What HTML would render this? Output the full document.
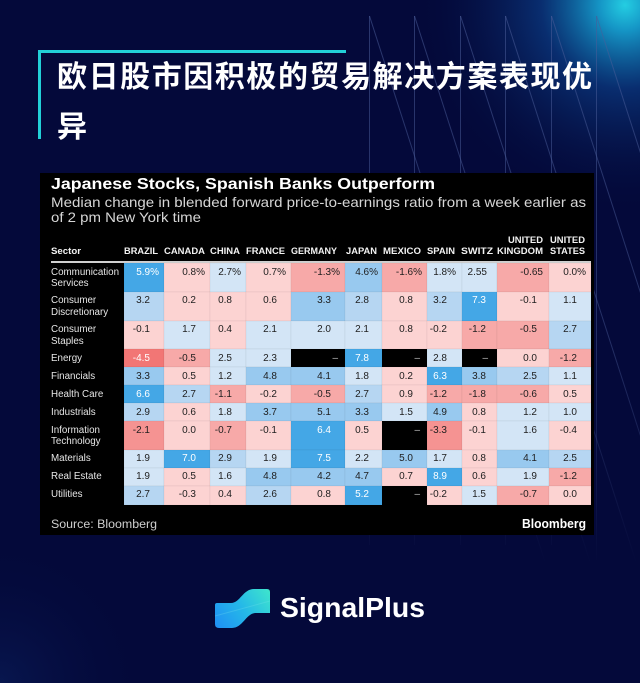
<!DOCTYPE html>
<html><head><meta charset="utf-8"><style>
html,body{margin:0;padding:0;background:#04093a;width:640px;height:683px;overflow:hidden}
svg{display:block}
.t{font-family:"Liberation Sans","Noto Sans CJK SC",sans-serif}
.sb{fill:#44a7e6}.mb{fill:#98c9ef}.lb2{fill:#b6d6f2}.lb{fill:#d3e5f6}
.lp{fill:#fcd3d2}.mr{fill:#f7a9a8}.dr{fill:#f59392}.xr{fill:#f27675}
.cells rect{stroke:#000;stroke-opacity:.07;stroke-width:.6}
.v{font-family:"Liberation Sans",sans-serif;font-size:10px;fill:#1e1e1e;text-anchor:end}
.w{fill:#fff}
.d{fill:#bdbdbd}
.lab{font-family:"Liberation Sans",sans-serif;font-size:9.8px;fill:#e6e6e6}
.hd{font-family:"Liberation Sans",sans-serif;font-size:9.5px;font-weight:700;fill:#f2f2f2}
</style></head><body>
<svg width="640" height="683" viewBox="0 0 640 683" xmlns="http://www.w3.org/2000/svg">
<defs>
<radialGradient id="g1" cx="625" cy="5" r="210" gradientUnits="userSpaceOnUse">
<stop offset="0" stop-color="#24cde2"/>
<stop offset="0.12" stop-color="#1596c6"/>
<stop offset="0.4" stop-color="#0b3d86" stop-opacity="0.7"/>
<stop offset="1" stop-color="#04093a" stop-opacity="0"/>
</radialGradient>
<radialGradient id="g2" cx="0" cy="683" r="150" gradientUnits="userSpaceOnUse">
<stop offset="0" stop-color="#0d2a6e" stop-opacity="0.4"/>
<stop offset="1" stop-color="#04093a" stop-opacity="0"/>
</radialGradient>
<linearGradient id="ls" x1="0" y1="16" x2="0" y2="565" gradientUnits="userSpaceOnUse">
<stop offset="0" stop-color="#4a5c98" stop-opacity="0.55"/>
<stop offset="0.6" stop-color="#4a5c98" stop-opacity="0.45"/>
<stop offset="1" stop-color="#4a5c98" stop-opacity="0"/>
</linearGradient>
<linearGradient id="lg" x1="215" y1="628" x2="270" y2="589" gradientUnits="userSpaceOnUse">
<stop offset="0" stop-color="#1f8ff5"/>
<stop offset="0.5" stop-color="#25b8e8"/>
<stop offset="1" stop-color="#3fe6cc"/>
</linearGradient>
</defs>
<rect width="640" height="683" fill="#04093a"/>
<rect width="640" height="683" fill="url(#g1)"/>
<rect width="640" height="683" fill="url(#g2)"/>
<g stroke="url(#ls)" stroke-width="1" fill="none">
<line x1="369.5" y1="16" x2="369.5" y2="545"/>
<line x1="414.5" y1="16" x2="414.5" y2="545"/>
<line x1="460.5" y1="16" x2="460.5" y2="545"/>
<line x1="505.5" y1="16" x2="505.5" y2="545"/>
<line x1="551.5" y1="16" x2="551.5" y2="545"/>
<line x1="596.5" y1="16" x2="596.5" y2="560"/>
<line x1="369.5" y1="16" x2="546" y2="565"/>
<line x1="414.5" y1="16" x2="591" y2="565"/>
<line x1="460.5" y1="16" x2="637" y2="565"/>
<line x1="505.5" y1="16" x2="682" y2="565"/>
<line x1="551.5" y1="16" x2="728" y2="565"/>
<line x1="596.5" y1="16" x2="773" y2="565"/>
</g>
<polyline points="39.5,139 39.5,51.5 346,51.5" fill="none" stroke="#22d0d8" stroke-width="3"/>
<text class="t" x="57" y="87" font-size="30" font-weight="700" fill="#fff" textLength="535" lengthAdjust="spacing">欧日股市因积极的贸易解决方案表现优</text>
<text class="t" x="57" y="137" font-size="30" font-weight="700" fill="#fff">异</text>

<rect x="40" y="173" width="554" height="362" fill="#000"/>
<text class="t" x="51" y="189" font-size="15.5" font-weight="700" fill="#fff" textLength="384" lengthAdjust="spacingAndGlyphs">Japanese Stocks, Spanish Banks Outperform</text>
<text class="t" x="51" y="207" font-size="14" fill="#d6d6d6" textLength="535" lengthAdjust="spacingAndGlyphs">Median change in blended forward price-to-earnings ratio from a week earlier as</text>
<text class="t" x="51" y="222" font-size="14" fill="#d6d6d6" textLength="150" lengthAdjust="spacingAndGlyphs">of 2 pm New York time</text>

<text class="hd" x="51" y="254" textLength="30" lengthAdjust="spacingAndGlyphs">Sector</text>
<text class="hd" x="124" y="254" textLength="34" lengthAdjust="spacingAndGlyphs">BRAZIL</text>
<text class="hd" x="164" y="254" textLength="41" lengthAdjust="spacingAndGlyphs">CANADA</text>
<text class="hd" x="210" y="254" textLength="30" lengthAdjust="spacingAndGlyphs">CHINA</text>
<text class="hd" x="246" y="254" textLength="39" lengthAdjust="spacingAndGlyphs">FRANCE</text>
<text class="hd" x="291" y="254" textLength="46" lengthAdjust="spacingAndGlyphs">GERMANY</text>
<text class="hd" x="346" y="254" textLength="31" lengthAdjust="spacingAndGlyphs">JAPAN</text>
<text class="hd" x="383" y="254" textLength="38" lengthAdjust="spacingAndGlyphs">MEXICO</text>
<text class="hd" x="427" y="254" textLength="28" lengthAdjust="spacingAndGlyphs">SPAIN</text>
<text class="hd" x="461" y="254" textLength="32" lengthAdjust="spacingAndGlyphs">SWITZ</text>
<text class="hd" x="508" y="243" textLength="35" lengthAdjust="spacingAndGlyphs">UNITED</text>
<text class="hd" x="497" y="254" textLength="46" lengthAdjust="spacingAndGlyphs">KINGDOM</text>
<text class="hd" x="550" y="243" textLength="35" lengthAdjust="spacingAndGlyphs">UNITED</text>
<text class="hd" x="550" y="254" textLength="35" lengthAdjust="spacingAndGlyphs">STATES</text>
<rect x="51" y="261" width="540" height="2" fill="#d0d0d0"/>

<g class="lab">
<text x="51" y="275">Communication</text><text x="51" y="286">Services</text>
<text x="51" y="303">Consumer</text><text x="51" y="315">Discretionary</text>
<text x="51" y="332">Consumer</text><text x="51" y="344">Staples</text>
<text x="51" y="361">Energy</text>
<text x="51" y="379">Financials</text>
<text x="51" y="397">Health Care</text>
<text x="51" y="415">Industrials</text>
<text x="51" y="433">Information</text><text x="51" y="444">Technology</text>
<text x="51" y="461">Materials</text>
<text x="51" y="479">Real Estate</text>
<text x="51" y="497">Utilities</text>
</g>

<g class="cells">
<rect x="124" y="263" width="40" height="29" class="sb"/>
<rect x="164" y="263" width="46" height="29" class="lp"/>
<rect x="210" y="263" width="36" height="29" class="lb"/>
<rect x="246" y="263" width="45" height="29" class="lp"/>
<rect x="291" y="263" width="54" height="29" class="mr"/>
<rect x="345" y="263" width="37" height="29" class="mb"/>
<rect x="382" y="263" width="45" height="29" class="mr"/>
<rect x="427" y="263" width="35" height="29" class="lb"/>
<rect x="462" y="263" width="35" height="29" class="lb"/>
<rect x="497" y="263" width="52" height="29" class="mr"/>
<rect x="549" y="263" width="42" height="29" class="lp"/>
<rect x="124" y="292" width="40" height="29" class="lb2"/>
<rect x="164" y="292" width="46" height="29" class="lp"/>
<rect x="210" y="292" width="36" height="29" class="lp"/>
<rect x="246" y="292" width="45" height="29" class="lp"/>
<rect x="291" y="292" width="54" height="29" class="mb"/>
<rect x="345" y="292" width="37" height="29" class="lb2"/>
<rect x="382" y="292" width="45" height="29" class="lp"/>
<rect x="427" y="292" width="35" height="29" class="lb2"/>
<rect x="462" y="292" width="35" height="29" class="sb"/>
<rect x="497" y="292" width="52" height="29" class="lp"/>
<rect x="549" y="292" width="42" height="29" class="lb"/>
<rect x="124" y="321" width="40" height="28" class="lp"/>
<rect x="164" y="321" width="46" height="28" class="lb"/>
<rect x="210" y="321" width="36" height="28" class="lp"/>
<rect x="246" y="321" width="45" height="28" class="lb"/>
<rect x="291" y="321" width="54" height="28" class="lb"/>
<rect x="345" y="321" width="37" height="28" class="lb"/>
<rect x="382" y="321" width="45" height="28" class="lp"/>
<rect x="427" y="321" width="35" height="28" class="lp"/>
<rect x="462" y="321" width="35" height="28" class="mr"/>
<rect x="497" y="321" width="52" height="28" class="mr"/>
<rect x="549" y="321" width="42" height="28" class="lb2"/>
<rect x="124" y="349" width="40" height="18" class="xr"/>
<rect x="164" y="349" width="46" height="18" class="mr"/>
<rect x="210" y="349" width="36" height="18" class="lb"/>
<rect x="246" y="349" width="45" height="18" class="lb"/>
<rect x="345" y="349" width="37" height="18" class="sb"/>
<rect x="427" y="349" width="35" height="18" class="lb"/>
<rect x="497" y="349" width="52" height="18" class="lp"/>
<rect x="549" y="349" width="42" height="18" class="mr"/>
<rect x="124" y="367" width="40" height="18" class="mb"/>
<rect x="164" y="367" width="46" height="18" class="lp"/>
<rect x="210" y="367" width="36" height="18" class="lb"/>
<rect x="246" y="367" width="45" height="18" class="mb"/>
<rect x="291" y="367" width="54" height="18" class="mb"/>
<rect x="345" y="367" width="37" height="18" class="lb"/>
<rect x="382" y="367" width="45" height="18" class="lp"/>
<rect x="427" y="367" width="35" height="18" class="sb"/>
<rect x="462" y="367" width="35" height="18" class="mb"/>
<rect x="497" y="367" width="52" height="18" class="lb2"/>
<rect x="549" y="367" width="42" height="18" class="lb"/>
<rect x="124" y="385" width="40" height="18" class="sb"/>
<rect x="164" y="385" width="46" height="18" class="lb2"/>
<rect x="210" y="385" width="36" height="18" class="mr"/>
<rect x="246" y="385" width="45" height="18" class="lp"/>
<rect x="291" y="385" width="54" height="18" class="mr"/>
<rect x="345" y="385" width="37" height="18" class="lb2"/>
<rect x="382" y="385" width="45" height="18" class="lp"/>
<rect x="427" y="385" width="35" height="18" class="mr"/>
<rect x="462" y="385" width="35" height="18" class="mr"/>
<rect x="497" y="385" width="52" height="18" class="mr"/>
<rect x="549" y="385" width="42" height="18" class="lp"/>
<rect x="124" y="403" width="40" height="18" class="lb2"/>
<rect x="164" y="403" width="46" height="18" class="lp"/>
<rect x="210" y="403" width="36" height="18" class="lb"/>
<rect x="246" y="403" width="45" height="18" class="mb"/>
<rect x="291" y="403" width="54" height="18" class="mb"/>
<rect x="345" y="403" width="37" height="18" class="mb"/>
<rect x="382" y="403" width="45" height="18" class="lb"/>
<rect x="427" y="403" width="35" height="18" class="mb"/>
<rect x="462" y="403" width="35" height="18" class="lp"/>
<rect x="497" y="403" width="52" height="18" class="lb"/>
<rect x="549" y="403" width="42" height="18" class="lb"/>
<rect x="124" y="421" width="40" height="29" class="dr"/>
<rect x="164" y="421" width="46" height="29" class="lp"/>
<rect x="210" y="421" width="36" height="29" class="mr"/>
<rect x="246" y="421" width="45" height="29" class="lp"/>
<rect x="291" y="421" width="54" height="29" class="sb"/>
<rect x="345" y="421" width="37" height="29" class="lp"/>
<rect x="427" y="421" width="35" height="29" class="dr"/>
<rect x="462" y="421" width="35" height="29" class="lp"/>
<rect x="497" y="421" width="52" height="29" class="lb"/>
<rect x="549" y="421" width="42" height="29" class="lp"/>
<rect x="124" y="450" width="40" height="18" class="lb"/>
<rect x="164" y="450" width="46" height="18" class="sb"/>
<rect x="210" y="450" width="36" height="18" class="lb2"/>
<rect x="246" y="450" width="45" height="18" class="lb"/>
<rect x="291" y="450" width="54" height="18" class="sb"/>
<rect x="345" y="450" width="37" height="18" class="lb"/>
<rect x="382" y="450" width="45" height="18" class="mb"/>
<rect x="427" y="450" width="35" height="18" class="lb"/>
<rect x="462" y="450" width="35" height="18" class="lp"/>
<rect x="497" y="450" width="52" height="18" class="mb"/>
<rect x="549" y="450" width="42" height="18" class="lb2"/>
<rect x="124" y="468" width="40" height="18" class="lb"/>
<rect x="164" y="468" width="46" height="18" class="lp"/>
<rect x="210" y="468" width="36" height="18" class="lb"/>
<rect x="246" y="468" width="45" height="18" class="mb"/>
<rect x="291" y="468" width="54" height="18" class="mb"/>
<rect x="345" y="468" width="37" height="18" class="mb"/>
<rect x="382" y="468" width="45" height="18" class="lp"/>
<rect x="427" y="468" width="35" height="18" class="sb"/>
<rect x="462" y="468" width="35" height="18" class="lp"/>
<rect x="497" y="468" width="52" height="18" class="lb"/>
<rect x="549" y="468" width="42" height="18" class="mr"/>
<rect x="124" y="486" width="40" height="19" class="lb2"/>
<rect x="164" y="486" width="46" height="19" class="lp"/>
<rect x="210" y="486" width="36" height="19" class="lp"/>
<rect x="246" y="486" width="45" height="19" class="lb2"/>
<rect x="291" y="486" width="54" height="19" class="lp"/>
<rect x="345" y="486" width="37" height="19" class="sb"/>
<rect x="427" y="486" width="35" height="19" class="lp"/>
<rect x="462" y="486" width="35" height="19" class="lb"/>
<rect x="497" y="486" width="52" height="19" class="mr"/>
<rect x="549" y="486" width="42" height="19" class="lp"/>
</g>

<g>
<text class="v w" x="159" y="275">5.9%</text>
<text class="v" x="205" y="275">0.8%</text>
<text class="v" x="241" y="275">2.7%</text>
<text class="v" x="286" y="275">0.7%</text>
<text class="v" x="340" y="275">-1.3%</text>
<text class="v" x="378" y="275">4.6%</text>
<text class="v" x="422" y="275">-1.6%</text>
<text class="v" x="456" y="275">1.8%</text>
<text class="v" x="487" y="275">2.55</text>
<text class="v" x="543" y="275">-0.65</text>
<text class="v" x="586" y="275">0.0%</text>
<text class="v" x="150" y="303">3.2</text>
<text class="v" x="196" y="303">0.2</text>
<text class="v" x="232" y="303">0.8</text>
<text class="v" x="277" y="303">0.6</text>
<text class="v" x="331" y="303">3.3</text>
<text class="v" x="369" y="303">2.8</text>
<text class="v" x="413" y="303">0.8</text>
<text class="v" x="447" y="303">3.2</text>
<text class="v w" x="486" y="303">7.3</text>
<text class="v" x="537" y="303">-0.1</text>
<text class="v" x="577" y="303">1.1</text>
<text class="v" x="150" y="332">-0.1</text>
<text class="v" x="196" y="332">1.7</text>
<text class="v" x="232" y="332">0.4</text>
<text class="v" x="277" y="332">2.1</text>
<text class="v" x="331" y="332">2.0</text>
<text class="v" x="369" y="332">2.1</text>
<text class="v" x="413" y="332">0.8</text>
<text class="v" x="447" y="332">-0.2</text>
<text class="v" x="486" y="332">-1.2</text>
<text class="v" x="537" y="332">-0.5</text>
<text class="v" x="577" y="332">2.7</text>
<text class="v w" x="150" y="361">-4.5</text>
<text class="v" x="196" y="361">-0.5</text>
<text class="v" x="232" y="361">2.5</text>
<text class="v" x="277" y="361">2.3</text>
<text class="v d" x="338" y="361">–</text>
<text class="v w" x="369" y="361">7.8</text>
<text class="v d" x="420" y="361">–</text>
<text class="v" x="447" y="361">2.8</text>
<text class="v d" x="488" y="361">–</text>
<text class="v" x="537" y="361">0.0</text>
<text class="v" x="577" y="361">-1.2</text>
<text class="v" x="150" y="379">3.3</text>
<text class="v" x="196" y="379">0.5</text>
<text class="v" x="232" y="379">1.2</text>
<text class="v" x="277" y="379">4.8</text>
<text class="v" x="331" y="379">4.1</text>
<text class="v" x="369" y="379">1.8</text>
<text class="v" x="413" y="379">0.2</text>
<text class="v w" x="447" y="379">6.3</text>
<text class="v" x="486" y="379">3.8</text>
<text class="v" x="537" y="379">2.5</text>
<text class="v" x="577" y="379">1.1</text>
<text class="v w" x="150" y="397">6.6</text>
<text class="v" x="196" y="397">2.7</text>
<text class="v" x="232" y="397">-1.1</text>
<text class="v" x="277" y="397">-0.2</text>
<text class="v" x="331" y="397">-0.5</text>
<text class="v" x="369" y="397">2.7</text>
<text class="v" x="413" y="397">0.9</text>
<text class="v" x="447" y="397">-1.2</text>
<text class="v" x="486" y="397">-1.8</text>
<text class="v" x="537" y="397">-0.6</text>
<text class="v" x="577" y="397">0.5</text>
<text class="v" x="150" y="415">2.9</text>
<text class="v" x="196" y="415">0.6</text>
<text class="v" x="232" y="415">1.8</text>
<text class="v" x="277" y="415">3.7</text>
<text class="v" x="331" y="415">5.1</text>
<text class="v" x="369" y="415">3.3</text>
<text class="v" x="413" y="415">1.5</text>
<text class="v" x="447" y="415">4.9</text>
<text class="v" x="486" y="415">0.8</text>
<text class="v" x="537" y="415">1.2</text>
<text class="v" x="577" y="415">1.0</text>
<text class="v" x="150" y="433">-2.1</text>
<text class="v" x="196" y="433">0.0</text>
<text class="v" x="232" y="433">-0.7</text>
<text class="v" x="277" y="433">-0.1</text>
<text class="v w" x="331" y="433">6.4</text>
<text class="v" x="369" y="433">0.5</text>
<text class="v d" x="420" y="433">–</text>
<text class="v" x="447" y="433">-3.3</text>
<text class="v" x="486" y="433">-0.1</text>
<text class="v" x="537" y="433">1.6</text>
<text class="v" x="577" y="433">-0.4</text>
<text class="v" x="150" y="461">1.9</text>
<text class="v w" x="196" y="461">7.0</text>
<text class="v" x="232" y="461">2.9</text>
<text class="v" x="277" y="461">1.9</text>
<text class="v w" x="331" y="461">7.5</text>
<text class="v" x="369" y="461">2.2</text>
<text class="v" x="413" y="461">5.0</text>
<text class="v" x="447" y="461">1.7</text>
<text class="v" x="486" y="461">0.8</text>
<text class="v" x="537" y="461">4.1</text>
<text class="v" x="577" y="461">2.5</text>
<text class="v" x="150" y="479">1.9</text>
<text class="v" x="196" y="479">0.5</text>
<text class="v" x="232" y="479">1.6</text>
<text class="v" x="277" y="479">4.8</text>
<text class="v" x="331" y="479">4.2</text>
<text class="v" x="369" y="479">4.7</text>
<text class="v" x="413" y="479">0.7</text>
<text class="v w" x="447" y="479">8.9</text>
<text class="v" x="486" y="479">0.6</text>
<text class="v" x="537" y="479">1.9</text>
<text class="v" x="577" y="479">-1.2</text>
<text class="v" x="150" y="497">2.7</text>
<text class="v" x="196" y="497">-0.3</text>
<text class="v" x="232" y="497">0.4</text>
<text class="v" x="277" y="497">2.6</text>
<text class="v" x="331" y="497">0.8</text>
<text class="v w" x="369" y="497">5.2</text>
<text class="v d" x="420" y="497">–</text>
<text class="v" x="447" y="497">-0.2</text>
<text class="v" x="486" y="497">1.5</text>
<text class="v" x="537" y="497">-0.7</text>
<text class="v" x="577" y="497">0.0</text>
</g>

<text class="t" x="51" y="528" font-size="12.3" fill="#cfcfcf" textLength="106" lengthAdjust="spacingAndGlyphs">Source: Bloomberg</text>
<text class="t" x="522" y="528" font-size="12.5" font-weight="700" fill="#fff" textLength="64" lengthAdjust="spacingAndGlyphs">Bloomberg</text>

<path d="M217,603 L231,603 C240,603 243,589 254,589 L267,589 Q270,589 270,592 L270,613 L256,613 C246,613 243,628 232,628 L219,628 Q215,628 215,624 L215,605 Q215,603 217,603 Z" fill="url(#lg)"/>
<path d="M215,616 L270,601" stroke="#7fe8f0" stroke-opacity="0.25" stroke-width="1"/>
<text class="t" x="280" y="617" font-size="28" font-weight="700" fill="#fff" textLength="145" lengthAdjust="spacingAndGlyphs">SignalPlus</text>
</svg>
</body></html>
